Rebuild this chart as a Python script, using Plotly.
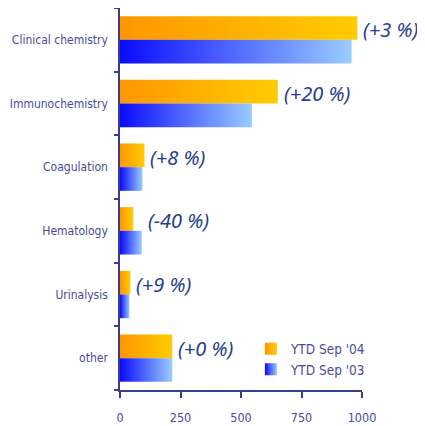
import plotly.graph_objects as go

categories = ["Clinical chemistry", "Immunochemistry", "Coagulation", "Hematology", "Urinalysis", "other"]
ytd_sep04 = [981, 652, 101, 55, 43, 216]
ytd_sep03 = [957, 545, 93, 90, 39, 216]
changes = ["(+3 %)", "(+20 %)", "(+8 %)", "(-40 %)", "(+9 %)", "(+0 %)"]
x_ticks = [0, 250, 500, 750, 1000]

ORANGE = [[0, "#FF9600"], [1, "#FFCC00"]]
BLUE = [[0, "#0A0AFF"], [1, "#9ACCFF"]]
AXIS = "#3c3c8c"
LABEL = "#4a4a9c"
ANN = "#26408f"
BAR_H = 0.372
FONT = "Liberation Sans Narrow, DejaVu Sans Condensed"

fig = go.Figure()


def add_bar(idx, value, offset, scale):
    y0 = idx + offset
    y1 = y0 + BAR_H
    fig.add_trace(go.Scatter(
        x=[0, value, value, 0, 0],
        y=[y0, y0, y1, y1, y0],
        mode="none", fill="toself",
        fillgradient=dict(type="horizontal", colorscale=scale),
        showlegend=False, hoverinfo="skip",
    ))


for i, cat in enumerate(categories):
    add_bar(i, ytd_sep04[i], -BAR_H, ORANGE)
    add_bar(i, ytd_sep03[i], 0, BLUE)

# legend entries
fig.add_trace(go.Scatter(x=[None], y=[None], mode="markers", name="YTD Sep '04",
                         marker=dict(symbol="square", size=10, color="#FF9600",
                                     gradient=dict(type="horizontal", color="#FFCC00"))))
fig.add_trace(go.Scatter(x=[None], y=[None], mode="markers", name="YTD Sep '03",
                         marker=dict(symbol="square", size=10, color="#0A0AFF",
                                     gradient=dict(type="horizontal", color="#9ACCFF"))))

for i, txt in enumerate(changes):
    fig.add_annotation(
        x=max(ytd_sep04[i], ytd_sep03[i]), y=i - BAR_H / 2,
        text=txt, showarrow=False, xanchor="left", yanchor="middle",
        xshift=4, yshift=-2,
        font=dict(family="Noto Sans", size=20, color=ANN, style="italic"),
    )

fig.update_layout(
    width=425, height=426,
    margin=dict(l=112, r=71, t=0, b=44),
    paper_bgcolor="white", plot_bgcolor="white",
    showlegend=True,
    legend=dict(x=0.541, y=0.148, xanchor="left", yanchor="top",
                font=dict(family=FONT, size=13.5, color=LABEL),
                bgcolor="rgba(0,0,0,0)", tracegroupgap=0, itemsizing="constant"),
    xaxis=dict(range=[0, 1000], tickvals=x_ticks, showgrid=False, zeroline=False,
               showline=True, linecolor=AXIS, linewidth=1.5, automargin=False,
               ticks="outside", ticklen=6, tickcolor=AXIS, tickwidth=1.5,
               ticklabelstandoff=9,
               tickfont=dict(family=FONT, size=12.5, color=LABEL)),
    yaxis=dict(range=[5.5, -0.5], tickmode="array", tickvals=list(range(len(categories))),
               ticktext=categories, ticks="", showgrid=False, zeroline=False,
               showline=True, linecolor=AXIS, linewidth=1.5, ticklabelstandoff=8,
               automargin=False,
               minor=dict(tickmode="array", tickvals=[k - 0.5 for k in range(len(categories) + 1)],
                          ticks="outside", ticklen=4, tickcolor=AXIS, tickwidth=1.5, showgrid=False),
               tickfont=dict(family=FONT, size=12, color=LABEL)),
)

fig.write_html("out.html")
